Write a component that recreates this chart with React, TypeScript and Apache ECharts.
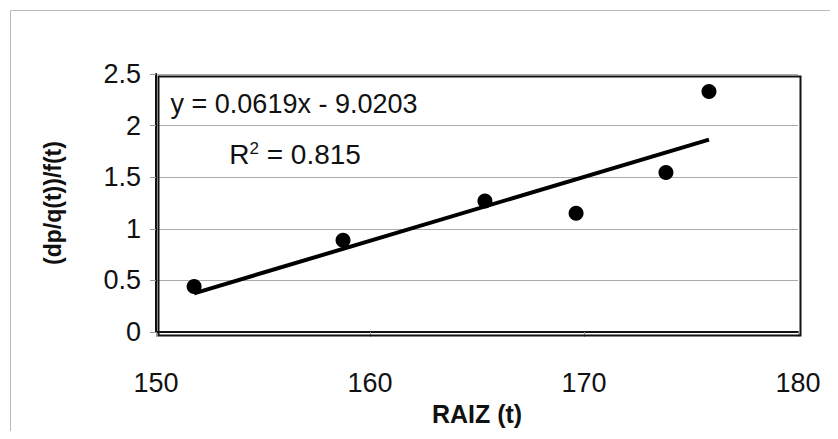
import React, { useEffect, useRef } from "react";
import * as echarts from "echarts";

const xValues = [151.78, 158.74, 165.37, 169.63, 173.83, 175.84];
const yValues = [0.44, 0.89, 1.27, 1.15, 1.545, 2.33];
const trendX = [151.78, 175.84];
const trendY = [0.375, 1.864];
const xTicks = [150, 160, 170, 180];
const yTicks = [0, 0.5, 1, 1.5, 2, 2.5];
const equationText = "y = 0.0619x - 9.0203";
const r2Value = "0.815";
const xTitle = "RAIZ (t)";
const yTitle = "(dp/q(t))/f(t)";

const FONT = "'Liberation Sans', Arial, Helvetica, sans-serif";

export default function App() {
  const ref = useRef<HTMLDivElement>(null);
  useEffect(() => {
    if (!ref.current) return;
    const chart = echarts.init(ref.current, undefined, { renderer: "svg" });
    chart.setOption({
      animation: false,
      backgroundColor: "#fff",
      grid: { left: 148, top: 66, right: 32, bottom: 98, show: false },
      xAxis: {
        type: "value",
        min: xTicks[0],
        max: xTicks[xTicks.length - 1],
        interval: 10,
        name: xTitle,
        nameLocation: "middle",
        nameGap: 69,
        nameTextStyle: { fontFamily: FONT, fontSize: 25, fontWeight: "bold", color: "#111" },
        axisLine: { show: true, onZero: false, lineStyle: { color: "#111", width: 2 } },
        axisTick: { show: true, length: 5, lineStyle: { color: "#999" } },
        axisLabel: { fontFamily: FONT, fontSize: 27, color: "#111", margin: 37 },
        splitLine: { show: false },
      },
      yAxis: {
        type: "value",
        min: yTicks[0],
        max: yTicks[yTicks.length - 1],
        interval: 0.5,
        name: yTitle,
        nameLocation: "middle",
        nameGap: 92,
        nameTextStyle: { fontFamily: FONT, fontSize: 23, fontWeight: "bold", color: "#111" },
        axisLine: { show: true, lineStyle: { color: "#111", width: 2 } },
        axisTick: { show: true, length: 6, lineStyle: { color: "#999" } },
        axisLabel: { fontFamily: FONT, fontSize: 27, color: "#111", margin: 15 },
        splitLine: { show: true, lineStyle: { color: "#aaa", width: 1 } },
      },
      graphic: [
        {
          type: "rect",
          left: 0,
          top: 0,
          shape: { width: 821, height: 422 },
          style: { fill: "none", stroke: "#bbb", lineWidth: 1 },
          silent: true,
        },
        {
          type: "rect",
          left: 148,
          top: 66,
          shape: { width: 642, height: 259 },
          style: { fill: "none", stroke: "#111", lineWidth: 2 },
          silent: true,
          z: 10,
        },
      ],
      series: [
        {
          type: "scatter",
          data: xValues.map((x, i) => [x, yValues[i]]),
          symbol: "circle",
          symbolSize: 15,
          itemStyle: { color: "#000", opacity: 1 },
          label: { show: false },
          z: 3,
        },
        {
          type: "line",
          data: trendX.map((x, i) => [x, trendY[i]]),
          showSymbol: false,
          symbol: "none",
          lineStyle: { color: "#000", width: 4 },
          z: 4,
          label: { show: false },
          endLabel: { show: false },
          markPoint: {
            silent: true,
            symbol: "rect",
            symbolSize: 0,
            data: [
              {
                coord: [156.45, 2.21],
                label: {
                  show: true,
                  formatter: equationText,
                  fontFamily: FONT,
                  fontSize: 27,
                  color: "#111",
                },
              },
              {
                coord: [156.5, 1.72],
                label: {
                  show: true,
                  formatter: "{n|R}{s|2}{n| = " + r2Value + "}",
                  rich: {
                    n: { fontFamily: FONT, fontSize: 28, color: "#111" },
                    s: { fontFamily: FONT, fontSize: 17, color: "#111", verticalAlign: "top", padding: [0, 0, 12, 0] },
                  },
                },
              },
            ],
          },
        },
      ],
    });
    return () => chart.dispose();
  }, []);
  return <div ref={ref} style={{ width: 822, height: 423 }} />;
}
